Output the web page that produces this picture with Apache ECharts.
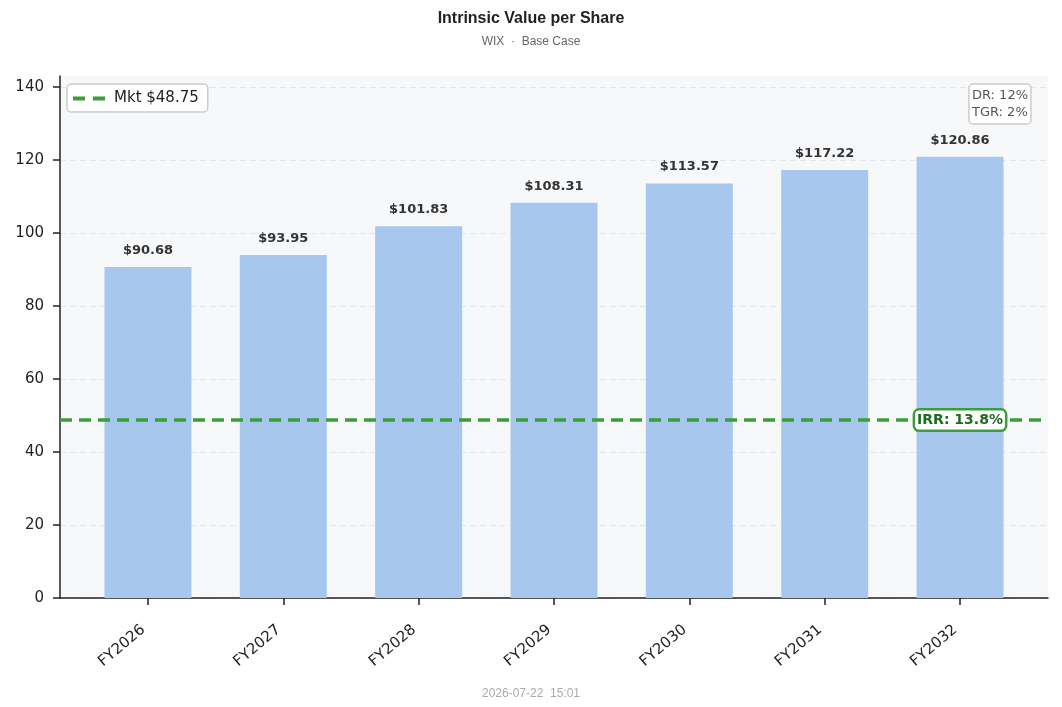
<!DOCTYPE html>
<html>
<head>
<meta charset="utf-8">
<script src="https://cdn.jsdelivr.net/npm/echarts@6/dist/echarts.min.js"></script>
</head>
<body style="margin:0">
<div id="main" style="width:1062px;height:707px;"></div>

<script type="text/javascript">
// data
var categories = ['FY2026', 'FY2027', 'FY2028', 'FY2029', 'FY2030', 'FY2031', 'FY2032'];
var values = [90.68, 93.95, 101.83, 108.31, 113.57, 117.22, 120.86];
var marketPrice = 48.75;
var irrText = 'IRR: 13.8%';
var yTicks = [0, 20, 40, 60, 80, 100, 120, 140];
var assumptions = ['DR: 12%', 'TGR: 2%'];

var green = '#3a9e3a';
var barData = categories.map(function (c, i) { return [i, values[i]]; });
var xTicks = categories.map(function (c, i) { return i; });
var mktName = 'Mkt $' + marketPrice.toFixed(2);

option = {
    animation: false,
    backgroundColor: '#fff',
    title: [{
        text: 'Intrinsic Value per Share',
        subtext: 'WIX  \u00b7  Base Case',
        left: 'center',
        top: 6,
        itemGap: 9,
        textStyle: { fontFamily: 'Liberation Sans', fontSize: 16, fontWeight: 'bold', color: '#222' },
        subtextStyle: { fontFamily: 'Liberation Sans', fontSize: 12, color: '#666' }
    }, {
        text: assumptions.join('\n'),
        right: 31,
        top: 84,
        padding: [3, 3],
        borderColor: '#ccc',
        borderWidth: 1.5,
        borderRadius: 4,
        backgroundColor: '#fff',
        textStyle: { fontFamily: 'DejaVu Sans', fontSize: 13, fontWeight: 'normal', color: '#555', lineHeight: 17 }
    }, {
        text: '2026-07-22  15:01',
        left: 'center',
        top: 683,
        textStyle: { fontFamily: 'Liberation Sans', fontSize: 12, fontWeight: 'normal', color: '#aaa' }
    }],
    legend: {
        left: 67,
        top: 84,
        padding: [7, 9, 6, 6],
        itemWidth: 32,
        itemHeight: 4,
        itemGap: 10,
        borderColor: '#ccc',
        borderWidth: 1.5,
        borderRadius: 4,
        backgroundColor: '#fff',
        textStyle: { fontFamily: 'DejaVu Sans', fontSize: 15, color: '#222', padding: [0, 0, 0, 4] },
        data: [{ name: mktName, icon: 'path://M0,0h12v4h-12z M20,0h12v4h-12z' }]
    },
    grid: {
        left: 60, right: 14, top: 76, bottom: 109,
        show: true,
        backgroundColor: '#f7f8fa',
        borderWidth: 0
    },
    xAxis: {
        type: 'value',
        min: -0.65,
        max: 6.65,
        splitLine: { show: false },
        axisLine: { onZero: false, lineStyle: { color: '#222', width: 1.5 } },
        axisTick: { show: true, inside: false, length: 7, customValues: xTicks, lineStyle: { color: '#222', width: 1.5 } },
        axisLabel: {
            customValues: xTicks,
            rotate: 40,
            margin: 26,
            padding: [0, 6, 0, 0],
            fontFamily: 'DejaVu Sans',
            fontSize: 15,
            color: '#222',
            formatter: function (v) { return categories[Math.round(v)]; }
        }
    },
    yAxis: {
        type: 'value',
        min: 0,
        max: 143,
        interval: 20,
        axisLine: { show: true, onZero: false, lineStyle: { color: '#222', width: 1.5 } },
        axisTick: { show: true, inside: false, length: 7, customValues: yTicks, lineStyle: { color: '#222', width: 1.5 } },
        axisLabel: { customValues: yTicks, margin: 16, fontFamily: 'DejaVu Sans', fontSize: 15, color: '#222' },
        splitLine: { show: true, lineStyle: { color: '#e3e6ea', type: [6, 4], width: 1.2 } }
    },
    series: [{
        name: 'Intrinsic',
        type: 'bar',
        barWidth: 87,
        itemStyle: { color: '#a7c7ef' },
        label: {
            show: true,
            position: 'top',
            distance: 10,
            fontFamily: 'DejaVu Sans',
            fontSize: 13,
            fontWeight: 'bold',
            color: '#333',
            formatter: function (p) { return '$' + p.value[1].toFixed(2); }
        },
        data: barData
    }, {
        name: mktName,
        type: 'line',
        symbol: 'none',
        data: [],
        lineStyle: { color: green, width: 3.5, type: [12, 7] },
        itemStyle: { color: green },
        markLine: {
            silent: true,
            symbol: 'none',
            label: { show: false },
            lineStyle: { color: green, width: 3.5, type: [12, 7] },
            data: [{ yAxis: marketPrice }]
        },
        markPoint: {
            symbol: 'rect',
            symbolSize: 0,
            label: {
                show: true,
                position: 'inside',
                formatter: irrText,
                fontFamily: 'DejaVu Sans',
                fontSize: 14,
                fontWeight: 'bold',
                color: '#1e6b1e',
                backgroundColor: '#fff',
                borderColor: green,
                borderWidth: 2.5,
                borderRadius: 4,
                padding: [3, 2, 2, 2]
            },
            data: [{ coord: [categories.length - 1, marketPrice] }]
        }
    }]
};

var myChart = echarts.init(document.getElementById('main'));
myChart.setOption(option);
</script>
</body>
</html>
